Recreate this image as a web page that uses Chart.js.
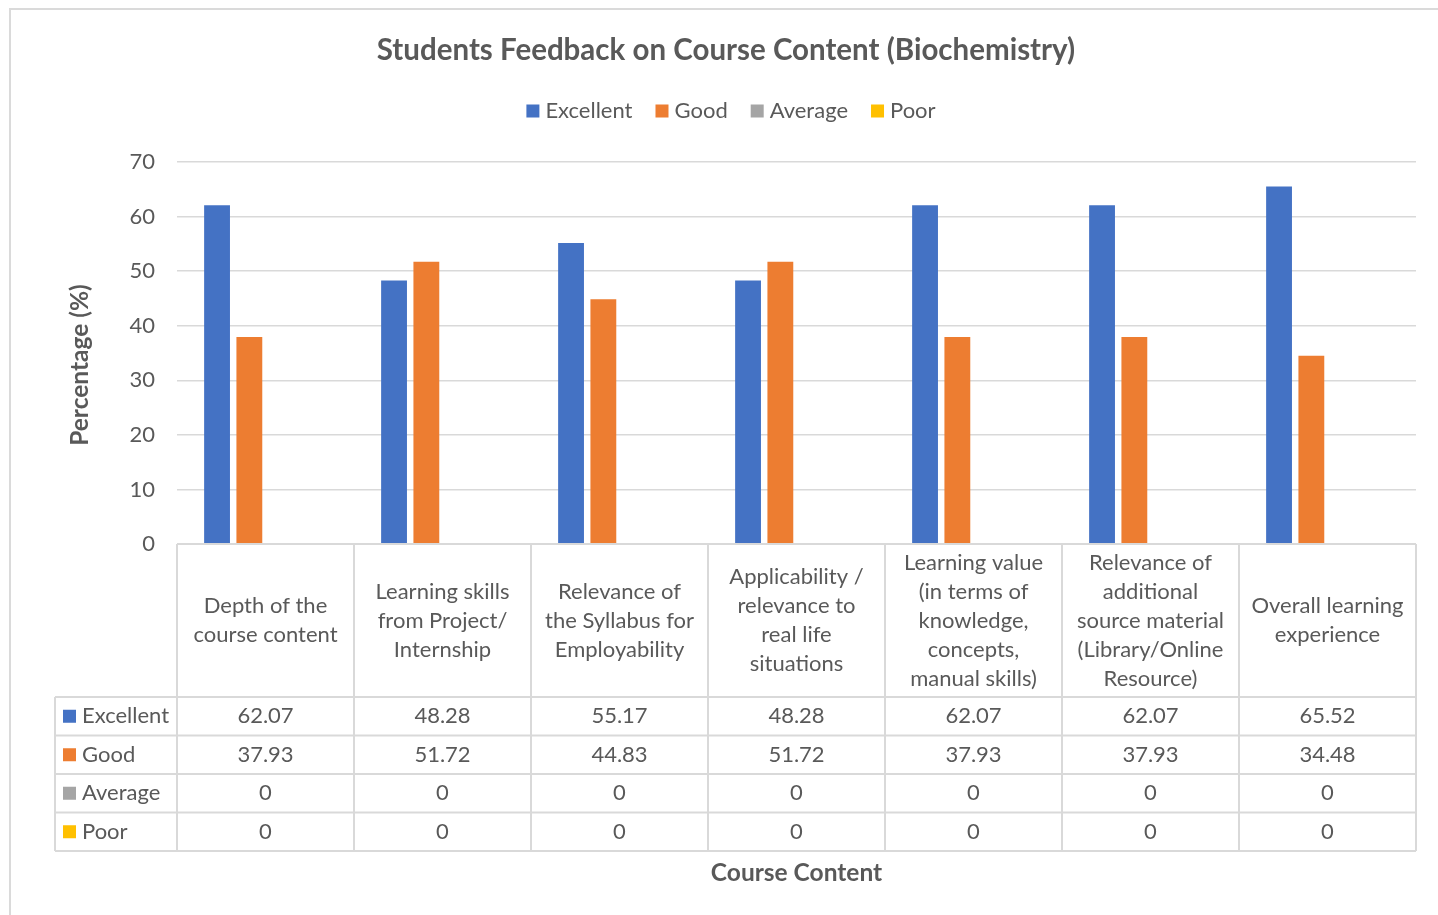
<!DOCTYPE html>
<html>
<head>
<meta charset="utf-8">
<script src="https://cdn.jsdelivr.net/npm/chart.js@4.4.1/dist/chart.umd.min.js"></script>
<style>
  html, body { margin: 0; padding: 0; background: #fff; overflow: hidden; }
  #frame { position: absolute; left: 9px; top: 8px; width: 1460px; height: 940px; border: 2px solid #dadada; }
  #chartCanvas { position: absolute; left: 0; top: 0; }
</style>
</head>
<body>
<div id="frame"></div>
<canvas id="chartCanvas" width="1438" height="915"></canvas>
<script>
// --- data ---
const chartTitle = "Students Feedback on Course Content (Biochemistry)";
const xTitle = "Course Content";
const yTitle = "Percentage (%)";

const categories = [
  ["Depth of the", "course content"],
  ["Learning skills", "from Project/", "Internship"],
  ["Relevance of", "the Syllabus for", "Employability"],
  ["Applicability /", "relevance to", "real life", "situations"],
  ["Learning value", "(in terms of", "knowledge,", "concepts,", "manual skills)"],
  ["Relevance of", "additional", "source material", "(Library/Online", "Resource)"],
  ["Overall learning", "experience"]
];

const seriesNames = ["Excellent", "Good", "Average", "Poor"];
const seriesColors = ["#4472C4", "#ED7D31", "#A5A5A5", "#FFC000"];

const excellent = [62.07, 48.28, 55.17, 48.28, 62.07, 62.07, 65.52];
const good = [37.93, 51.72, 44.83, 51.72, 37.93, 37.93, 34.48];
const average = [0, 0, 0, 0, 0, 0, 0];
const poor = [0, 0, 0, 0, 0, 0, 0];
const seriesValues = [excellent, good, average, poor];

const yTicks = [0, 10, 20, 30, 40, 50, 60, 70];

// --- look ---
const textColor = "#595959";
const lineColor = "#d9d9d9";
const fontFamily = "Lato, 'Open Sans', sans-serif";

Chart.defaults.font.family = fontFamily;
Chart.defaults.color = textColor;

// table under the plot (Excel style data table)
const headerH = 153;
const rowH = 38.5;
const tableLeft = 55;

const tablePlugin = {
  id: "dataTable",
  afterDraw(chart) {
    const { ctx, chartArea: a, scales: { x } } = chart;
    const colW = (a.right - a.left) / categories.length;
    const top = a.bottom;
    const bodyTop = top + headerH;
    const bottom = bodyTop + rowH * seriesNames.length;

    ctx.save();
    ctx.strokeStyle = lineColor;
    ctx.lineWidth = 2;

    // horizontal lines
    ctx.beginPath();
    ctx.moveTo(a.left, top); ctx.lineTo(a.right, top);
    for (let r = 0; r <= seriesNames.length; r++) {
      const y = bodyTop + r * rowH;
      ctx.moveTo(tableLeft, y); ctx.lineTo(a.right, y);
    }
    // vertical lines
    for (let c = 0; c <= categories.length; c++) {
      const xx = a.left + c * colW;
      ctx.moveTo(xx, top); ctx.lineTo(xx, bottom);
    }
    ctx.moveTo(tableLeft, bodyTop); ctx.lineTo(tableLeft, bottom);
    ctx.stroke();

    // header labels
    ctx.fillStyle = textColor;
    ctx.font = "22px " + fontFamily;
    ctx.textAlign = "center";
    ctx.textBaseline = "middle";
    const lh = 29;
    categories.forEach((lines, i) => {
      const cx = x.getPixelForValue(i);
      const cy = top + headerH / 2;
      const start = cy - (lines.length - 1) * lh / 2;
      lines.forEach((t, k) => ctx.fillText(t, cx, start + k * lh));
    });

    // rows
    seriesNames.forEach((name, r) => {
      const cy = bodyTop + r * rowH + rowH / 2;
      ctx.fillStyle = seriesColors[r];
      ctx.fillRect(63, cy - 6.5, 13, 13);
      ctx.fillStyle = textColor;
      ctx.textAlign = "left";
      ctx.fillText(name, 82, cy);
      ctx.textAlign = "center";
      seriesValues[r].forEach((v, i) => {
        ctx.fillText(String(v), x.getPixelForValue(i), cy);
      });
    });

    // axis titles
    ctx.font = "bold 24.5px " + fontFamily;
    ctx.fillText(xTitle, (a.left + a.right) / 2, 873);
    ctx.save();
    ctx.translate(80, 365);
    ctx.rotate(-Math.PI / 2);
    ctx.fillText(yTitle, 0, 0);
    ctx.restore();

    // chart title
    ctx.font = "bold 29.5px " + fontFamily;
    ctx.fillText(chartTitle, 726, 50);

    // legend
    ctx.font = "22px " + fontFamily;
    const box = 13, gap = 6, spacing = 23;
    const widths = seriesNames.map(n => box + gap + ctx.measureText(n).width);
    const total = widths.reduce((s, w) => s + w, 0) + spacing * (widths.length - 1);
    let lx = 731 - total / 2;
    seriesNames.forEach((n, i) => {
      ctx.fillStyle = seriesColors[i];
      ctx.fillRect(lx, 111 - box / 2, box, box);
      ctx.fillStyle = textColor;
      ctx.textAlign = "left";
      ctx.fillText(n, lx + box + gap, 111);
      lx += widths[i] + spacing;
    });

    ctx.restore();
  }
};

const canvas = document.getElementById("chartCanvas");

new Chart(canvas, {
  type: "bar",
  data: {
    labels: categories,
    datasets: seriesNames.map((n, i) => ({
      label: n,
      data: seriesValues[i],
      backgroundColor: seriesColors[i],
      borderWidth: 0,
      categoryPercentage: 0.73,
      barPercentage: 0.8
    }))
  },
  options: {
    responsive: false,
    animation: false,
    devicePixelRatio: 1,
    layout: { padding: { top: 162, left: 0, right: 22, bottom: 371 } },
    plugins: {
      legend: { display: false },
      title: { display: false },
      tooltip: { enabled: false }
    },
    scales: {
      x: { display: false },
      y: {
        min: 0,
        max: 70,
        afterFit: s => { s.width = 177; },
        afterBuildTicks: s => { s.ticks = yTicks.map(v => ({ value: v })); },
        ticks: { font: { size: 22 }, color: textColor, padding: 22 },
        grid: { color: lineColor, lineWidth: 1.5, drawTicks: false },
        border: { display: false }
      }
    }
  },
  plugins: [tablePlugin]
});
</script>
</body>
</html>
